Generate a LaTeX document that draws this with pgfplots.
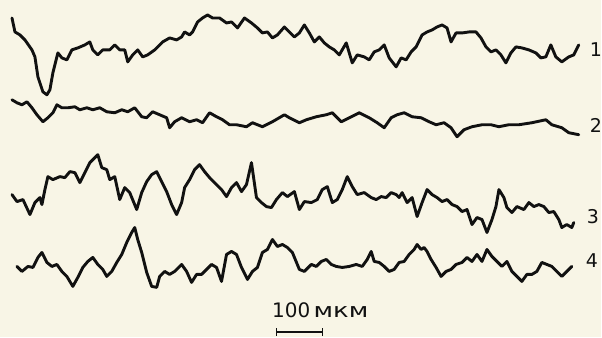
\documentclass[border=0pt]{standalone}
\usepackage{pgfplots}
\pgfplotsset{compat=1.18}
\usepackage{fontspec}
\setmainfont{Liberation Sans}
\newfontfamily\barfont{DejaVu Sans}
\definecolor{paper}{HTML}{F8F5E6}
\definecolor{ink}{HTML}{111111}

\begin{document}
\begin{tikzpicture}
\fill[paper] (0,0) rectangle (602pt,338pt);
\begin{axis}[
  scale only axis, width=602pt, height=338pt,
  xmin=0, xmax=602, ymin=0, ymax=338, y dir=reverse,
  axis lines=none, ticks=none, clip=false,
  trace/.style={ink, no markers, line width=2.9pt, line join=round, line cap=round},
]
% profile 1
\addplot[trace] coordinates {
(12,18)(15,32)(20,35)(25,40)(32,50)(35,57)(38,77)(43,92)(47,95)(50,90)(53,73)(58,53)(62,58)(67,60)
(72,50)(78,48)(85,45)(90,42)(93,50)(98,55)(103,50)(110,50)(115,45)(120,50)(125,50)(128,62)(133,55)
(138,50)(143,57)(148,55)(155,50)(163,42)(170,38)(177,40)(182,37)(185,32)(190,35)(193,32)(198,22)
(203,18)(208,15)(213,18)(220,18)(227,23)(232,22)(238,28)(245,18)(252,23)(258,28)(263,33)(268,32)
(273,38)(278,35)(285,27)(290,32)(295,37)(300,33)(305,25)(310,33)(315,42)(320,37)(325,43)(330,47)
(335,50)(340,55)(347,43)(353,63)(358,55)(365,57)(370,60)(375,52)(380,50)(385,45)(390,58)(397,67)
(402,58)(407,60)(412,52)(417,47)(423,35)(428,32)(433,30)(438,27)(443,25)(448,28)(452,42)(457,33)
(463,33)(470,32)(477,32)(482,38)(487,47)(492,52)(497,50)(502,55)(507,63)(512,53)(517,47)(523,48)
(530,50)(537,53)(542,58)(547,57)(552,45)(557,57)(563,62)(570,57)(575,55)(580,45)
};
% profile 2
\addplot[trace] coordinates {
(12,100)(17,103)(22,105)(27,102)(32,108)(37,115)(43,122)(48,118)(53,113)(57,105)(62,108)(68,108)
(75,107)(80,110)(87,108)(93,110)(100,108)(107,112)(115,113)(122,110)(128,112)(135,108)(142,117)
(147,118)(153,112)(160,115)(167,118)(170,128)(175,122)(182,118)(190,122)(197,120)(203,123)(210,113)
(217,117)(223,120)(230,125)(237,125)(247,127)(253,123)(263,127)(273,122)(285,115)(290,118)(300,123)
(307,120)(317,117)(327,115)(333,113)(342,122)(350,118)(360,113)(370,118)(378,123)(385,128)(392,118)
(398,115)(405,113)(413,117)(422,118)(430,122)(437,125)(445,123)(452,128)(458,137)(465,130)(473,127)
(483,125)(492,125)(500,127)(510,125)(520,125)(533,123)(547,120)(553,125)(563,128)(570,133)(580,135)
};
% profile 3
\addplot[trace] coordinates {
(12,195)(17,202)(23,200)(30,215)(35,203)(40,198)(42,205)(45,190)(48,177)(53,180)(60,177)(65,178)
(70,172)(75,173)(80,183)(85,173)(90,163)(95,158)(98,155)(102,168)(107,170)(110,180)(115,177)(120,200)
(125,188)(130,193)(137,210)(142,193)(147,182)(152,175)(157,172)(162,182)(167,192)(172,205)(177,215)
(182,203)(185,188)(190,180)(195,170)(200,165)(205,172)(210,178)(217,185)(222,190)(227,197)(232,188)
(237,183)(242,192)(247,185)(252,163)(257,198)(262,203)(267,207)(272,208)(277,200)(283,193)(288,197)
(295,192)(300,210)(305,202)(312,203)(318,200)(323,190)(328,187)(333,203)(338,200)(343,190)(348,177)
(353,187)(358,195)(365,193)(372,198)(377,200)(382,197)(387,198)(392,193)(397,195)(400,198)(403,193)
(408,203)(413,198)(418,217)(423,203)(428,190)(433,195)(438,198)(443,202)(448,200)(453,205)(458,207)
(463,212)(468,210)(473,225)(478,218)(483,220)(488,233)(493,220)(497,207)(500,190)(505,198)(508,208)
(513,213)(518,207)(525,210)(530,203)(535,207)(540,205)(545,207)(550,213)(555,212)(560,220)(563,228)
(568,225)(573,228)(575,223)
};
% profile 4
\addplot[trace] coordinates {
(17,267)(22,272)(28,267)(33,268)(38,258)(42,253)(47,263)(52,267)(57,265)(62,272)(67,277)(73,287)
(78,278)(83,268)(88,262)(93,258)(98,265)(103,270)(107,277)(112,272)(117,263)(122,255)(127,243)
(132,233)(135,228)(138,240)(142,253)(147,273)(152,287)(157,288)(160,277)(165,272)(170,275)(175,272)
(182,265)(187,272)(192,283)(197,275)(202,275)(207,270)(212,265)(217,268)(222,282)(227,255)(232,252)
(237,255)(242,268)(248,280)(253,272)(258,268)(263,253)(268,250)(273,240)(278,247)(283,245)(288,248)
(293,253)(300,270)(305,272)(312,265)(317,267)(322,262)(327,260)(332,265)(337,267)(343,268)(350,267)
(357,265)(363,267)(368,260)(372,252)(375,262)(380,263)(385,267)(390,272)(395,270)(400,263)(405,262)
(410,255)(415,250)(418,245)(422,250)(425,248)(428,252)(432,260)(437,268)(442,277)(447,272)(452,270)
(457,265)(463,263)(468,258)(473,262)(478,255)(483,262)(488,250)(493,257)(498,262)(503,267)(508,262)
(513,272)(518,277)(523,282)(528,275)(533,275)(538,272)(543,263)(548,265)(553,267)(558,272)(563,277)
(568,272)(573,267)
};
% curve numbers
\tikzset{num/.style={anchor=west, inner sep=0pt, ink, font=\barfont\fontsize{19}{19}\selectfont}}
\node[num] at (axis cs:591,50) {1};
\node[num] at (axis cs:591,126) {2};
\node[num] at (axis cs:588,217) {3};
\node[num] at (axis cs:587,261) {4};
% scale bar
\node[ink, inner sep=0pt, font=\barfont\fontsize{20}{20}\selectfont] at (axis cs:321,311)
  {100\,\scalebox{1.3}[1]{мкм}};
\draw[ink, line width=2pt] (axis cs:277,333) -- (axis cs:323,333);
\draw[ink, line width=1.5pt] (axis cs:277,329) -- (axis cs:277,337);
\draw[ink, line width=1.5pt] (axis cs:323,329) -- (axis cs:323,337);
\end{axis}
\end{tikzpicture}
\end{document}
